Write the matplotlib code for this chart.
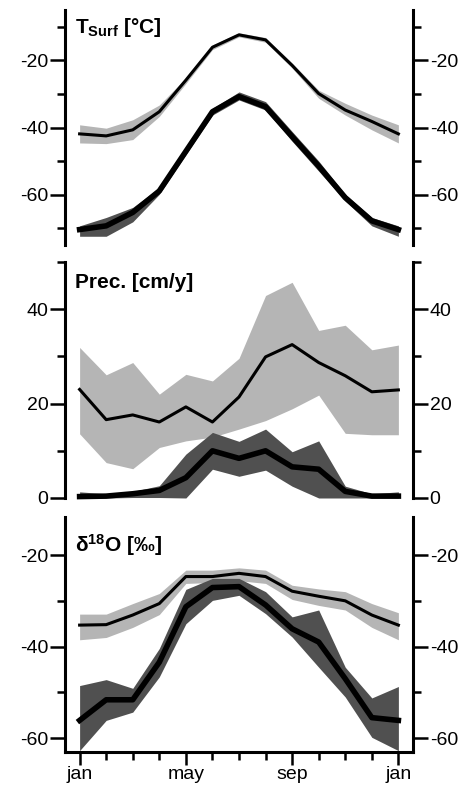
import matplotlib
matplotlib.use("Agg")
import matplotlib.pyplot as plt
from matplotlib.ticker import FixedLocator

plt.rcParams['font.family'] = ['Liberation Sans', 'DejaVu Sans']
plt.rcParams['axes.unicode_minus'] = False
plt.rcParams['mathtext.fontset'] = 'custom'
plt.rcParams['mathtext.rm'] = 'Liberation Sans'
plt.rcParams['mathtext.it'] = 'Liberation Sans'
plt.rcParams['mathtext.bf'] = 'Liberation Sans:bold'

months = list(range(13))
month_labels = ['jan', 'may', 'sep', 'jan']
month_label_pos = [0, 4, 8, 12]

# --- Surface temperature ---
t_light = [-41.9, -42.5, -40.7, -35.3, -25.9, -16.1, -12.4, -13.9, -21.5, -29.9, -34.8, -38.2, -41.9]
t_light_hi = [-39.2, -40.2, -37.7, -33.3, -25.2, -15.4, -11.8, -13.2, -20.8, -28.9, -32.8, -36.3, -39.2]
t_light_lo = [-44.6, -44.8, -43.6, -36.7, -26.9, -16.8, -13.0, -14.6, -22.3, -31.3, -36.3, -40.7, -44.6]
t_dark = [-70.4, -69.3, -65.3, -58.9, -47.1, -35.3, -30.8, -33.8, -42.7, -51.5, -60.9, -67.8, -70.4]
t_dark_hi = [-69.3, -66.8, -63.8, -57.9, -46.1, -34.3, -29.4, -32.3, -41.2, -50.0, -59.9, -66.8, -69.3]
t_dark_lo = [-72.4, -72.4, -68.1, -59.9, -48.1, -36.3, -31.8, -34.8, -44.1, -53.0, -61.9, -69.3, -72.4]

# --- Precipitation ---
p_light = [23.0, 16.6, 17.6, 16.1, 19.3, 16.1, 21.4, 29.9, 32.5, 28.7, 25.9, 22.5, 22.9]
p_light_hi = [31.9, 26.1, 28.7, 22.0, 26.2, 24.8, 29.6, 42.9, 45.7, 35.5, 36.6, 31.4, 32.4]
p_light_lo = [13.6, 7.5, 6.2, 10.7, 12.1, 12.9, 14.6, 16.4, 18.9, 21.8, 13.7, 13.4, 13.4]
p_dark = [0.3, 0.4, 0.9, 1.6, 4.3, 10.0, 8.4, 10.0, 6.6, 6.1, 1.4, 0.4, 0.4]
p_dark_hi = [1.3, 0.9, 1.4, 2.6, 9.3, 13.9, 12.0, 14.6, 9.8, 12.1, 2.5, 0.9, 1.3]
p_dark_lo = [0.0, 0.0, 0.1, 0.1, 0.0, 6.1, 4.6, 5.9, 2.5, 0.0, 0.0, 0.0, 0.0]

# --- delta 18O ---
d_light = [-35.3, -35.2, -33.1, -30.6, -24.7, -24.7, -24.0, -24.7, -27.9, -29.0, -30.0, -33.1, -35.3]
d_light_hi = [-32.9, -32.9, -30.6, -28.4, -23.3, -23.3, -22.8, -23.3, -26.6, -27.4, -28.0, -30.6, -32.6]
d_light_lo = [-38.5, -38.0, -35.8, -33.0, -26.2, -26.0, -25.6, -26.2, -29.7, -31.0, -32.0, -35.8, -38.5]
d_dark = [-56.1, -51.6, -51.6, -43.4, -31.3, -27.1, -26.9, -30.9, -36.1, -39.0, -47.0, -55.5, -56.1]
d_dark_hi = [-48.5, -47.2, -49.1, -40.4, -27.5, -25.1, -25.1, -28.0, -33.5, -32.0, -44.5, -51.2, -48.7]
d_dark_lo = [-62.7, -56.1, -54.3, -46.6, -35.0, -29.9, -28.8, -32.8, -37.9, -44.5, -51.0, -59.8, -62.7]

LIGHT = '#b5b5b5'
DARK = '#505050'

fig = plt.figure(figsize=(4.68, 7.88), dpi=100)
L, W = 65 / 468, 348 / 468

def panel(top_px, bot_px):
    return fig.add_axes([L, 1 - bot_px / 788, W, (bot_px - top_px) / 788])

ax1 = panel(10, 245)
ax2 = panel(262, 498)
ax3 = panel(517, 752)

def style(ax, ylim, majors, minors, bottom=False):
    ax.set_xlim(-0.55, 12.55)
    ax.set_ylim(*ylim)
    ax.spines['top'].set_visible(False)
    ax.spines['bottom'].set_visible(bottom)
    for s in ['left', 'right', 'bottom']:
        ax.spines[s].set_linewidth(2.2)
    ax.yaxis.set_major_locator(FixedLocator(majors))
    ax.yaxis.set_minor_locator(FixedLocator(minors))
    ax.tick_params(axis='y', which='both', left=True, right=True,
                   labelleft=True, labelright=True, direction='out', width=1.8,
                   labelsize=14, pad=1)
    ax.tick_params(axis='y', which='major', length=11)
    ax.tick_params(axis='y', which='minor', length=6)
    if bottom:
        ax.set_xticks(months, minor=True)
        ax.set_xticks(month_label_pos)
        ax.set_xticklabels(month_labels)
        ax.tick_params(axis='x', which='both', direction='out', width=1.8,
                       labelsize=14, pad=1)
        ax.tick_params(axis='x', which='major', length=9)
        ax.tick_params(axis='x', which='minor', length=6)
    else:
        ax.set_xticks([])
        ax.tick_params(axis='x', which='both', bottom=False, labelbottom=False)

def draw(ax, lt, lhi, llo, dk, dhi, dlo, clip=True):
    ax.fill_between(months, llo, lhi, color=LIGHT, lw=0, zorder=1, clip_on=clip)
    ax.fill_between(months, dlo, dhi, color=DARK, lw=0, zorder=2, clip_on=clip)
    ax.plot(months, lt, color='black', lw=2.2, zorder=3, solid_joinstyle='round', clip_on=clip)
    ax.plot(months, dk, color='black', lw=4.0, zorder=4, solid_joinstyle='round', clip_on=clip)

draw(ax1, t_light, t_light_hi, t_light_lo, t_dark, t_dark_hi, t_dark_lo)
style(ax1, (-75, -5), [-20, -40, -60], [-10, -30, -50, -70])
ax1.text(0.03, 0.925, r'T$_{\mathbf{Surf}}$ [°C]', transform=ax1.transAxes,
         fontsize=15, fontweight='bold', va='center', ha='left')

draw(ax2, p_light, p_light_hi, p_light_lo, p_dark, p_dark_hi, p_dark_lo, clip=False)
style(ax2, (0, 50), [0, 20, 40], [10, 30, 50])
ax2.text(0.03, 0.915, 'Prec. [cm/y]', transform=ax2.transAxes,
         fontsize=15, fontweight='bold', va='center', ha='left')

draw(ax3, d_light, d_light_hi, d_light_lo, d_dark, d_dark_hi, d_dark_lo)
style(ax3, (-63, -11.7), [-20, -40, -60], [-30, -50], bottom=True)
ax3.text(0.03, 0.88, r'δ$^{\mathbf{18}}$O [‰]', transform=ax3.transAxes,
         fontsize=15, fontweight='bold', va='center', ha='left')

fig.savefig('out.png', dpi=100)
